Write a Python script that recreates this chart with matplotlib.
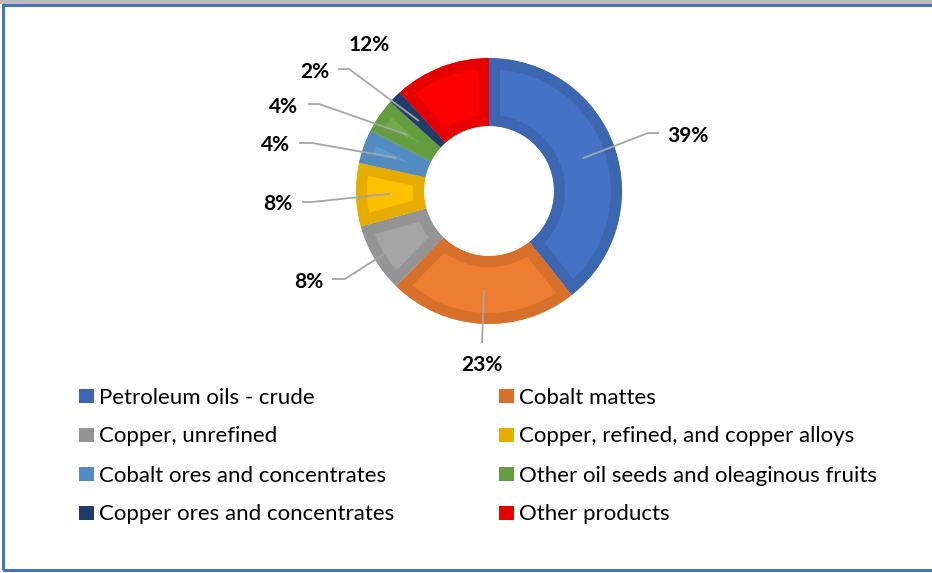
import matplotlib
matplotlib.use("Agg")
import matplotlib.pyplot as plt
from matplotlib.patches import Rectangle
import numpy as np

# ---------------- data ----------------
categories = [
    "Petroleum oils - crude",
    "Cobalt mattes",
    "Copper, unrefined",
    "Copper, refined, and copper alloys",
    "Cobalt ores and concentrates",
    "Other oil seeds and oleaginous fruits",
    "Copper ores and concentrates",
    "Other products",
]
values = [39.3, 23.0, 8.4, 7.7, 4.1, 4.2, 1.6, 11.7]
fill_colors = ["#4472C4", "#ED7D31", "#A5A5A5", "#FFC000",
               "#5B9BD5", "#70AD47", "#264478", "#FF0000"]
edge_colors = ["#3D66B0", "#D6702B", "#949494", "#E6AD00",
               "#528BC0", "#649C40", "#213C6A", "#E60000"]

# ---------------- layout (pixel coordinates, y downward) ----------------
W, H = 932, 573
CX, CY = 489, 191
R_OUT, R_IN = 133, 65
# label: (text x centre, text baseline y, leader start x, leader elbow x, leader y) ; None = no leader
label_layout = [
    (688, 142, 659, 648, 133),
    (482, 371, 482, 482, 343),
    (309, 288, 332, 345, 279),
    (278, 210, 302, 312, 202),
    (275, 151, 299, 312, 143),
    (283, 113, 308, 319, 104),
    (315, 78, 338, 349, 69),
    (369, 51, None, None, None),
]
legend_cols_x = [79, 499]
legend_rows_y = [396, 435, 474, 513]


def py(y):
    return H - y


fig = plt.figure(figsize=(W / 100, H / 100), dpi=100)
ax = fig.add_axes([0, 0, 1, 1])

wedges, _ = ax.pie(values, colors=fill_colors, startangle=90, counterclock=False,
                   center=(CX, py(CY)), radius=R_OUT,
                   wedgeprops=dict(width=R_OUT - R_IN, linewidth=0))
ax.set_xlim(0, W)
ax.set_ylim(0, H)
ax.set_aspect("auto")
ax.axis("off")

border_px = 11
for w, ec in zip(wedges, edge_colors):
    w.set_edgecolor(ec)
    w.set_linewidth(2 * border_px * 72 / 100)
    w.set_clip_on(True)
    w.set_clip_path(w)

# data labels with leader lines
r_mid = (R_OUT + R_IN) / 2
for w, v, lay in zip(wedges, values, label_layout):
    tx, ty, lx0, lx1, ly = lay
    ax.text(tx, py(ty), f"{round(v)}%", ha="center", va="baseline",
            fontsize=15, fontweight="bold", family="Lato", color="black")
    if lx0 is not None:
        th = np.deg2rad((w.theta1 + w.theta2) / 2)
        axp = CX + r_mid * np.cos(th)
        ayp = py(CY) + r_mid * np.sin(th)
        ax.plot([lx0, lx1, axp], [py(ly), py(ly), ayp], color="#A6A6A6",
                lw=1.3, solid_capstyle="butt", zorder=3)

# legend (two columns, row-major)
for i, (cat, ec) in enumerate(zip(categories, edge_colors)):
    col, row = i % 2, i // 2
    x0 = legend_cols_x[col]
    yc = legend_rows_y[row]
    ax.add_patch(Rectangle((x0, py(yc + 7)), 15, 14, facecolor=ec, edgecolor="none"))
    ax.text(x0 + 20, py(yc + 7.5), cat, ha="left", va="baseline",
            fontsize=16, family="Lato", color="black")

# frame: gray shadow on top, blue border
ax.add_patch(Rectangle((0, py(3.5)), W, 3.5, facecolor="#BDBDBD", edgecolor="none", zorder=0))
ax.add_patch(Rectangle((2.5, py(569.5)), W + 10, 565, facecolor="none",
                       edgecolor="#4472C4", lw=3 * 72 / 100, zorder=5, clip_on=False))

fig.savefig("out.png", dpi=100)
